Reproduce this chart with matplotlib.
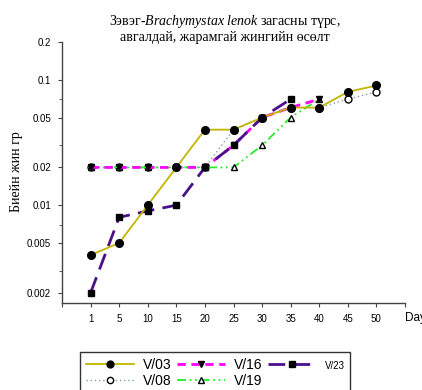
import numpy as np
import matplotlib
matplotlib.use("Agg")
import matplotlib.pyplot as plt
from matplotlib.ticker import FixedLocator, NullFormatter

plt.rcParams['font.family'] = ['Liberation Sans', 'DejaVu Sans']
plt.rcParams['mathtext.fontset'] = 'custom'
plt.rcParams['mathtext.rm'] = 'Liberation Serif'
plt.rcParams['mathtext.it'] = 'Liberation Serif:italic'

days = ['1', '5', '10', '15', '20', '25', '30', '35', '40', '45', '50']
v03 = [0.004, 0.005, 0.01, 0.02, 0.04, 0.04, 0.05, 0.06, 0.06, 0.08, 0.09]
v08 = [0.02, 0.02, 0.02, 0.02, 0.02, 0.04, 0.05, 0.06, 0.06, 0.07, 0.08]
v16 = [0.02, 0.02, 0.02, 0.02, 0.02, 0.03, 0.05, 0.06, 0.07]
v19 = [0.02, 0.02, 0.02, 0.02, 0.02, 0.02, 0.03, 0.05, 0.07]
v23 = [0.002, 0.008, 0.009, 0.01, 0.02, 0.03, 0.05, 0.07]
yticks = [0.002, 0.005, 0.01, 0.02, 0.05, 0.1, 0.2]
ytick_labels = ['0.002', '0.005', '0.01', '0.02', '0.05', '0.1', '0.2']
yminor = [0.003, 0.007, 0.03, 0.07]

fig = plt.figure(figsize=(4.22, 3.90), dpi=100)
ax = fig.add_axes([62/422, 1-303/390, (405-62)/422, (303-42)/390])

x = np.arange(len(days))

ax.plot(x[:len(v08)], v08, linestyle=(0, (1, 2)), color='#7fa3a3', lw=1.0,
        marker='o', ms=5, mfc='white', mec='black', mew=1.0, label='V/08', zorder=2)
ax.plot(x[:len(v19)], v19, linestyle=(0, (5, 2, 1, 2, 1, 2)), color='#22ee22', lw=1.3,
        marker='^', ms=5, mfc='white', mec='black', mew=1.0, label='V/19', zorder=3)
ax.plot(x[:len(v16)], v16, linestyle=(0, (3, 2)), color='#ff00ff', lw=2.0,
        marker='v', ms=5, mfc='black', mec='black', label='V/16', zorder=4)
ax.plot(x[:len(v23)], v23, linestyle=(0, (6, 3)), color='#4a0f8a', lw=2.0,
        marker='s', ms=5, mfc='black', mec='black', label='V/23', zorder=5)
ax.plot(x[:len(v03)], v03, linestyle='-', color='#c2b400', lw=1.3,
        marker='o', ms=5.5, mfc='black', mec='black', label='V/03', zorder=6)

ax.set_yscale('log')
ax.set_ylim(0.00166, 0.2)
ax.set_xlim(-1, len(days))
ax.yaxis.set_major_locator(FixedLocator(yticks))
ax.set_yticklabels(ytick_labels)
ax.yaxis.set_minor_locator(FixedLocator(yminor))
ax.yaxis.set_minor_formatter(NullFormatter())

ax.set_xticks(np.arange(-1, len(days) + 1))
ax.set_xticklabels([''] + days + [''])

for s in ['top', 'right']:
    ax.spines[s].set_visible(False)
for s in ['left', 'bottom']:
    ax.spines[s].set_color('#444444')
    ax.spines[s].set_linewidth(1.0)
ax.tick_params(axis='both', which='major', direction='out', length=3, width=0.8,
               labelsize=7, color='#444444', pad=5)
ax.tick_params(axis='y', which='minor', direction='out', length=2, width=0.6, color='#444444')

fig.text(405/422, 1-318/390, 'Day', fontsize=8.5, ha='left', va='center')

fig.text(17/422, 1-172/390, 'Биейн жин гр', rotation=90, fontsize=10,
         family='Liberation Serif', ha='center', va='center')

fig.text(225/422, 1-21/390, 'Зэвэг-$\\it{Brachymystax\\ lenok}$ загасны түрс,',
         fontsize=10, family='Liberation Serif', ha='center', va='center')
fig.text(225/422, 1-38/390, 'авгалдай, жарамгай жингийн өсөлт',
         fontsize=10, family='Liberation Serif', ha='center', va='center')

handles, labels = ax.get_legend_handles_labels()
order = ['V/03', 'V/08', 'V/16', 'V/19', 'V/23']
hmap = dict(zip(labels, handles))
leg = fig.legend([hmap[k] for k in order], order, ncol=3, loc='upper left',
                 bbox_to_anchor=(80/422, 1-352/390), borderaxespad=0,
                 fontsize=10, frameon=True, fancybox=False, edgecolor='black',
                 handlelength=3.5, handletextpad=0.6, columnspacing=0.4,
                 labelspacing=0.15, borderpad=0.4, markerscale=0.9)
leg.get_frame().set_linewidth(1.0)
leg.get_texts()[4].set_fontsize(7)

fig.savefig('out.png', dpi=100)
